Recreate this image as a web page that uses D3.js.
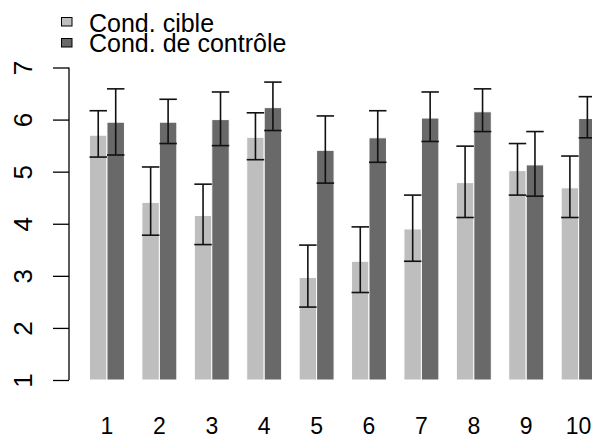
<!DOCTYPE html>
<html lang="fr">
    <head>
        <meta charset="utf-8">
        <title>Cond. cible vs contrôle</title>
        <script src="https://cdnjs.cloudflare.com/ajax/libs/d3/7.8.5/d3.min.js"></script>
        <style>
          body { margin: 0; background: #fff; }
          svg { display: block; font-family: "Liberation Sans", Arial, sans-serif; }
        </style>
    </head>
    <body>
        <svg width="592" height="437"></svg>
        <script type="text/javascript">
            // data
            var items = ["1", "2", "3", "4", "5", "6", "7", "8", "9", "10"];
            var series = ["Cond. cible", "Cond. de contrôle"];
            var cible = [5.70, 4.41, 4.16, 5.66, 2.97, 3.28, 3.90, 4.79, 5.02, 4.69];
            var cibleLo = [5.28, 3.78, 3.60, 5.23, 2.40, 2.68, 3.28, 4.12, 4.55, 4.12];
            var cibleHi = [6.17, 5.09, 4.76, 6.13, 3.59, 3.94, 4.55, 5.49, 5.54, 5.30];
            var controle = [5.95, 5.95, 6.00, 6.23, 5.41, 5.65, 6.03, 6.15, 5.13, 6.02];
            var controleLo = [5.32, 5.54, 5.50, 5.79, 4.78, 5.18, 5.58, 5.77, 4.53, 5.65];
            var controleHi = [6.59, 6.39, 6.53, 6.72, 6.07, 6.17, 6.53, 6.59, 5.77, 6.44];
            var yTicks = [1, 2, 3, 4, 5, 6, 7];

            var colors = ["#bebebe", "#696969"];

            var svg = d3.select("svg");

            // build rows for the bars
            var rows = [];
            items.forEach(function(it, i) {
              rows.push({item: it, s: 0, v: cible[i], lo: cibleLo[i], hi: cibleHi[i]});
              rows.push({item: it, s: 1, v: controle[i], lo: controleLo[i], hi: controleHi[i]});
            });

            // scales
            var x = d3.scaleBand()
                .domain(items)
                .range([89.5, 596.1])
                .paddingInner(1 / 3)
                .paddingOuter(0);

            var xSub = d3.scaleBand()
                .domain([0, 1])
                .range([0, x.bandwidth()]);

            var y = d3.scaleLinear()
                .domain([1, 7])
                .range([380, 67.5]);

            // bars
            svg.selectAll(".bar")
              .data(rows)
              .enter()
                .append("rect")
                .attr("class", "bar")
                .attr("x", function(d) { return x(d.item) + xSub(d.s); })
                .attr("width", xSub.bandwidth())
                .attr("y", function(d) { return y(d.v); })
                .attr("height", function(d) { return y(1) - y(d.v); })
                .attr("fill", function(d) { return colors[d.s]; })
                .attr("stroke", "#ffffff")
                .attr("stroke-width", 1);

            // error bars
            var err = svg.selectAll(".err")
              .data(rows)
              .enter()
                .append("g")
                .attr("class", "err")
                .attr("stroke", "#111")
                .attr("stroke-width", 1.6);

            err.append("line")
              .attr("x1", function(d) { return x(d.item) + xSub(d.s) + xSub.bandwidth() / 2; })
              .attr("x2", function(d) { return x(d.item) + xSub(d.s) + xSub.bandwidth() / 2; })
              .attr("y1", function(d) { return y(d.lo); })
              .attr("y2", function(d) { return y(d.hi); });

            [ "lo", "hi" ].forEach(function(k) {
              err.append("line")
                .attr("x1", function(d) { return x(d.item) + xSub(d.s); })
                .attr("x2", function(d) { return x(d.item) + xSub(d.s) + xSub.bandwidth(); })
                .attr("y1", function(d) { return y(d[k]); })
                .attr("y2", function(d) { return y(d[k]); });
            });

            // y axis
            var yAxis = d3.axisLeft(y)
                .tickValues(yTicks)
                .tickSize(16)
                .tickFormat(d3.format("d"));

            var gy = svg.append("g")
              .attr("transform", "translate(69,0)")
              .call(yAxis);
            gy.select(".domain").attr("stroke", "#000").attr("stroke-width", 1.3)
              .attr("d", "M0," + y(1) + "V" + y(7));
            gy.selectAll(".tick line").attr("stroke", "#000").attr("stroke-width", 1.3);
            gy.selectAll(".tick text")
              .attr("font-size", 26)
              .attr("fill", "#000")
              .attr("x", 0)
              .attr("dy", 0)
              .attr("text-anchor", "middle")
              .attr("transform", "translate(-37,0) rotate(-90)");

            // x labels
            svg.selectAll(".xlab")
              .data(items)
              .enter()
                .append("text")
                .attr("class", "xlab")
                .attr("x", function(d) { return x(d) + x.bandwidth() / 2; })
                .attr("y", 434)
                .attr("text-anchor", "middle")
                .attr("font-size", 23)
                .attr("fill", "#000")
                .text(function(d) { return d; });

            // legend
            var leg = svg.selectAll(".leg")
              .data(series)
              .enter()
                .append("g")
                .attr("class", "leg");

            leg.append("rect")
              .attr("x", 61.5)
              .attr("y", function(d, i) { return 17.5 + i * 21; })
              .attr("width", 10.5)
              .attr("height", 8.5)
              .attr("fill", function(d, i) { return colors[i]; })
              .attr("stroke", "#000")
              .attr("stroke-width", 1);

            leg.append("text")
              .attr("x", 89)
              .attr("y", function(d, i) { return 32 + i * 20; })
              .attr("font-size", 25)
              .attr("fill", "#000")
              .text(function(d) { return d; });
        </script>
    </body>
</html>
